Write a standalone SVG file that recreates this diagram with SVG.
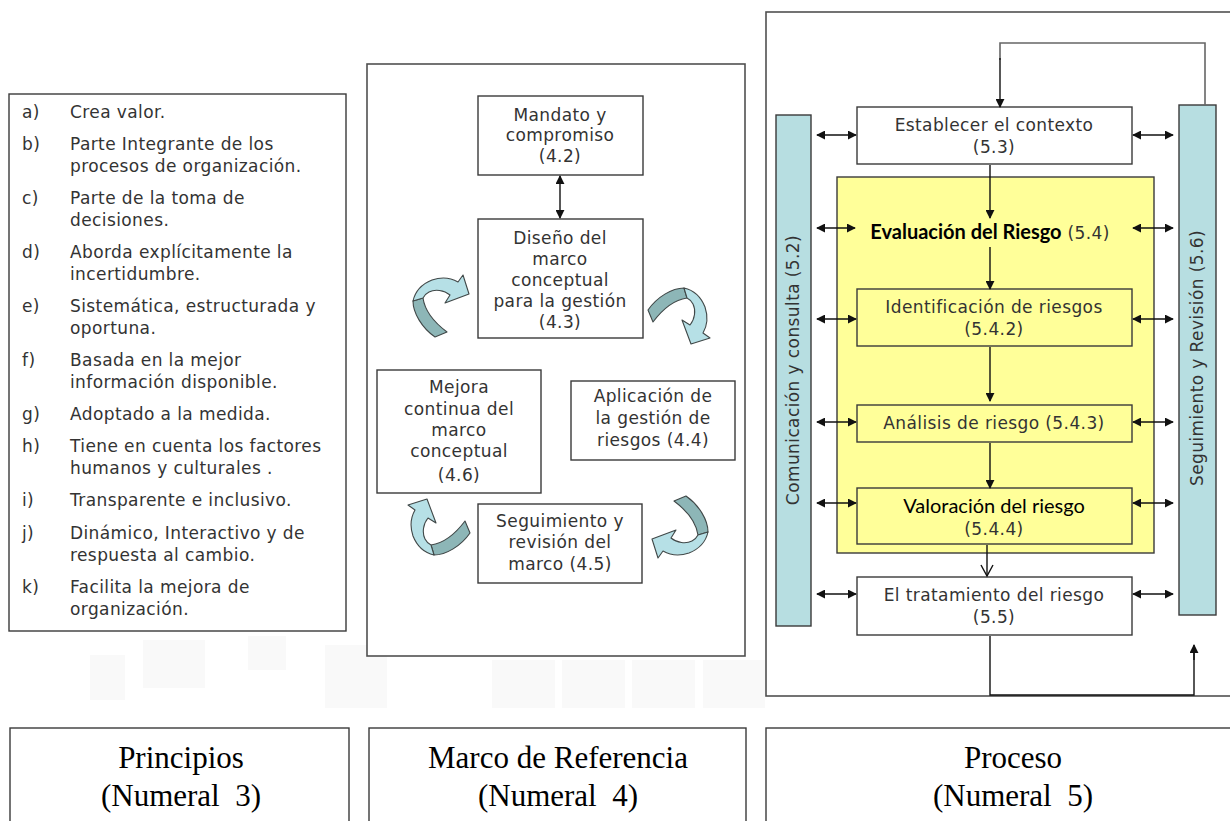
<svg xmlns="http://www.w3.org/2000/svg" xmlns:xlink="http://www.w3.org/1999/xlink" width="1230" height="821" viewBox="0 0 1230 821">
  <style>
    .box { fill: #ffffff; stroke: #3a3a3a; stroke-width: 1.4; }
    .frame { fill: #ffffff; stroke: #505050; stroke-width: 1.6; }
    .ybox { fill: #ffff99; stroke: #3a3a3a; stroke-width: 1.4; }
    .bar { fill: #b7dee1; stroke: #3a3a3a; stroke-width: 1.4; }
    .t { font-family: "DejaVu Sans", Verdana, sans-serif; font-size: 17px; letter-spacing: 0.4px; fill: #333333; }
    .tc { text-anchor: middle; }
    .cal { font-family: Lato, "Open Sans", sans-serif; font-size: 20px; fill: #000000; }
    .big { font-family: "Liberation Serif", "Times New Roman", serif; font-size: 31px; fill: #000000; text-anchor: middle; }
    .ln { fill: none; stroke: #111111; stroke-width: 1.4; }
    .gl { fill: none; stroke: #666666; stroke-width: 1.6; }
    .dbl { fill: none; stroke: #111111; stroke-width: 1.4; marker-start: url(#ah); marker-end: url(#ah); }
    .one { fill: none; stroke: #111111; stroke-width: 1.4; marker-end: url(#ah); }
    .cl { fill: #b6e0e6; stroke: #404848; stroke-width: 1.1; stroke-linejoin: round; }
    .cd { fill: #8db6b7; stroke: #404848; stroke-width: 1.1; stroke-linejoin: round; }
    .haze { fill: #f9f9f9; }
  </style>
  <defs>
    <marker id="ah" viewBox="0 0 10 10" refX="9" refY="5" markerWidth="9" markerHeight="9" markerUnits="userSpaceOnUse" orient="auto-start-reverse">
      <path d="M0,0 L10,5 L0,10 Z" fill="#111111"/>
    </marker>
    <!-- twisted curved arrow, tail at the bottom, head pointing right -->
    <g id="curl">
      <path class="cd" d="M-27,-6 C-27,6 -18,21 -5,30 L7,25 C-5,16 -15,5 -17,-9 Z"/>
      <path class="cl" d="M-27,-6 C-25,-15 -18,-23 -8,-27 C1,-30 11,-29 18,-25 L23,-32 L29,-13 L5,-4 L10,-12 C4,-17 -5,-18 -11,-15 C-14,-13.5 -16,-11 -17,-9 Z"/>
    </g>
  </defs>

  <rect width="1230" height="821" fill="#ffffff"/>

  <!-- faint backdrop blocks -->
  <g id="backdrop">
    <rect class="haze" x="90" y="655" width="35" height="45"/>
    <rect class="haze" x="143" y="640" width="62" height="48"/>
    <rect class="haze" x="248" y="636" width="38" height="34"/>
    <rect class="haze" x="325" y="645" width="62" height="63"/>
    <rect class="haze" x="492" y="660" width="63" height="48"/>
    <rect class="haze" x="562" y="660" width="63" height="48"/>
    <rect class="haze" x="632" y="660" width="63" height="48"/>
    <rect class="haze" x="703" y="660" width="62" height="48"/>
  </g>

  <!-- Principios -->
  <g id="principios">
    <rect class="box" x="9" y="94" width="337" height="537"/>
    <g class="t">
      <text x="22" y="118">a)</text><text x="70" y="118">Crea valor.</text>
      <text x="22" y="150">b)</text><text x="70" y="150">Parte Integrante de los</text>
      <text x="70" y="172">procesos de organización.</text>
      <text x="22" y="204">c)</text><text x="70" y="204">Parte de la toma de</text>
      <text x="70" y="226">decisiones.</text>
      <text x="22" y="258">d)</text><text x="70" y="258">Aborda explícitamente la</text>
      <text x="70" y="280">incertidumbre.</text>
      <text x="22" y="312">e)</text><text x="70" y="312">Sistemática, estructurada y</text>
      <text x="70" y="334">oportuna.</text>
      <text x="22" y="366">f)</text><text x="70" y="366">Basada en la mejor</text>
      <text x="70" y="388">información disponible.</text>
      <text x="22" y="420">g)</text><text x="70" y="420">Adoptado a la medida.</text>
      <text x="22" y="452">h)</text><text x="70" y="452">Tiene en cuenta los factores</text>
      <text x="70" y="474">humanos y culturales .</text>
      <text x="22" y="506">i)</text><text x="70" y="506">Transparente e inclusivo.</text>
      <text x="22" y="539">j)</text><text x="70" y="539">Dinámico, Interactivo y de</text>
      <text x="70" y="561">respuesta al cambio.</text>
      <text x="22" y="593">k)</text><text x="70" y="593">Facilita la mejora de</text>
      <text x="70" y="615">organización.</text>
    </g>
  </g>

  <!-- Marco de referencia -->
  <g id="marco-frame">
    <rect class="frame" x="367" y="64" width="378" height="592"/>
  </g>
  <g id="mandato">
    <rect class="box" x="478" y="96" width="165" height="79"/>
    <text class="t tc" x="560" y="121">Mandato y</text>
    <text class="t tc" x="560" y="141">compromiso</text>
    <text class="t tc" x="560" y="162">(4.2)</text>
  </g>
  <g id="diseno">
    <rect class="box" x="478" y="219" width="165" height="119"/>
    <text class="t tc" x="560" y="244">Diseño del</text>
    <text class="t tc" x="560" y="265">marco</text>
    <text class="t tc" x="560" y="286">conceptual</text>
    <text class="t tc" x="560" y="307">para la gestión</text>
    <text class="t tc" x="560" y="328">(4.3)</text>
  </g>
  <g id="mejora">
    <rect class="box" x="377" y="370" width="164" height="123"/>
    <text class="t tc" x="459" y="393">Mejora</text>
    <text class="t tc" x="459" y="415">continua del</text>
    <text class="t tc" x="459" y="436">marco</text>
    <text class="t tc" x="459" y="457">conceptual</text>
    <text class="t tc" x="459" y="481">(4.6)</text>
  </g>
  <g id="aplicacion">
    <rect class="box" x="571" y="381" width="164" height="79"/>
    <text class="t tc" x="653" y="402">Aplicación de</text>
    <text class="t tc" x="653" y="424">la gestión de</text>
    <text class="t tc" x="653" y="446">riesgos (4.4)</text>
  </g>
  <g id="seguimiento-marco">
    <rect class="box" x="478" y="504" width="164" height="79"/>
    <text class="t tc" x="560" y="527">Seguimiento y</text>
    <text class="t tc" x="560" y="548">revisión del</text>
    <text class="t tc" x="560" y="570">marco (4.5)</text>
  </g>

  <!-- Proceso -->
  <g id="proceso-frame">
    <rect class="frame" x="766" y="12" width="480" height="684"/>
  </g>
  <g id="comunicacion">
    <rect class="bar" x="776" y="115" width="35" height="511"/>
    <text class="t tc" transform="translate(799,370) rotate(-90)">Comunicación y consulta (5.2)</text>
  </g>
  <g id="revision">
    <rect class="bar" x="1179" y="105" width="37" height="510"/>
    <text class="t tc" transform="translate(1203,358) rotate(-90)">Seguimiento y Revisión (5.6)</text>
  </g>
  <g id="contexto">
    <rect class="box" x="857" y="107" width="275" height="57"/>
    <text class="t tc" x="994" y="131">Establecer el contexto</text>
    <text class="t tc" x="994" y="153">(5.3)</text>
  </g>
  <g id="evaluacion">
    <rect class="ybox" x="837" y="177" width="317" height="376"/>
    <text x="990" y="239" text-anchor="middle"><tspan class="cal" font-size="21" font-weight="bold">Evaluación del Riesgo</tspan><tspan class="t" fill="#444444"> (5.4)</tspan></text>
  </g>
  <g id="identificacion">
    <rect class="ybox" x="857" y="289" width="275" height="57"/>
    <text class="t tc" x="994" y="313">Identificación de riesgos</text>
    <text class="t tc" x="994" y="335">(5.4.2)</text>
  </g>
  <g id="analisis">
    <rect class="ybox" x="857" y="405" width="275" height="37"/>
    <text class="t tc" x="994" y="429">Análisis de riesgo (5.4.3)</text>
  </g>
  <g id="valoracion">
    <rect class="ybox" x="857" y="488" width="275" height="56"/>
    <text class="cal tc" x="994" y="513">Valoración del riesgo</text>
    <text class="t tc" x="994" y="535">(5.4.4)</text>
  </g>
  <g id="tratamiento">
    <rect class="box" x="857" y="577" width="275" height="58"/>
    <text class="t tc" x="994" y="601">El tratamiento del riesgo</text>
    <text class="t tc" x="994" y="623">(5.5)</text>
  </g>

  <!-- connectors -->
  <g id="connectors">
    <line class="dbl" x1="560" y1="176" x2="560" y2="218"/>
    <use xlink:href="#curl" transform="translate(440,307)"/>
    <use xlink:href="#curl" transform="translate(678,315) rotate(90)"/>
    <use xlink:href="#curl" transform="translate(681,526) rotate(180)"/>
    <use xlink:href="#curl" transform="translate(440,528) rotate(270)"/>

    <polyline class="gl" points="1205,105 1205,43 1000,43 1000,60"/>
    <line class="one" x1="1000" y1="58" x2="1000" y2="107"/>
    <line class="one" x1="990" y1="165" x2="990" y2="218"/>
    <line class="one" x1="990" y1="247" x2="990" y2="289"/>
    <line class="one" x1="990" y1="347" x2="990" y2="401"/>
    <line class="one" x1="990" y1="443" x2="990" y2="488"/>
    <line class="ln" x1="987" y1="545" x2="987" y2="576"/>
    <polyline class="ln" points="981,565 987,576 993,565"/>
    <polyline class="ln" points="990,636 990,695 1194,695 1194,648"/>
    <line class="one" x1="1194" y1="660" x2="1194" y2="645"/>

    <line class="dbl" x1="817" y1="135" x2="856" y2="135"/>
    <line class="dbl" x1="1133" y1="135" x2="1173" y2="135"/>
    <line class="dbl" x1="817" y1="228" x2="855" y2="228"/>
    <line class="dbl" x1="1133" y1="228" x2="1173" y2="228"/>
    <line class="dbl" x1="817" y1="319" x2="856" y2="319"/>
    <line class="dbl" x1="1133" y1="319" x2="1173" y2="319"/>
    <line class="dbl" x1="817" y1="422" x2="856" y2="422"/>
    <line class="dbl" x1="1133" y1="422" x2="1173" y2="422"/>
    <line class="dbl" x1="817" y1="503" x2="856" y2="503"/>
    <line class="dbl" x1="1133" y1="503" x2="1173" y2="503"/>
    <line class="dbl" x1="817" y1="594" x2="856" y2="594"/>
    <line class="dbl" x1="1133" y1="594" x2="1173" y2="594"/>
  </g>

  <!-- section captions -->
  <g id="cap-principios">
    <rect class="box" x="10" y="728" width="339" height="110"/>
    <text class="big" x="181" y="768">Principios</text>
    <text class="big" x="181" y="806">(Numeral&#160; 3)</text>
  </g>
  <g id="cap-marco">
    <rect class="box" x="369" y="728" width="377" height="110"/>
    <text class="big" x="558" y="768">Marco de Referencia</text>
    <text class="big" x="558" y="806">(Numeral&#160; 4)</text>
  </g>
  <g id="cap-proceso">
    <rect class="box" x="766" y="728" width="494" height="110"/>
    <text class="big" x="1013" y="768">Proceso</text>
    <text class="big" x="1013" y="806">(Numeral&#160; 5)</text>
  </g>
</svg>
